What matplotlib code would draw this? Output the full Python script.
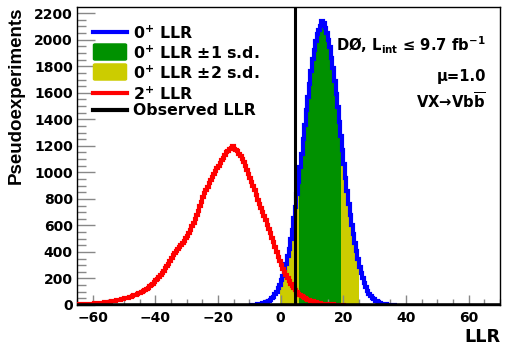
import numpy as np
import matplotlib
matplotlib.use("Agg")
import matplotlib.pyplot as plt
from matplotlib.patches import FancyBboxPatch
from matplotlib.lines import Line2D

plt.rcParams['font.family'] = ['DejaVu Sans']
plt.rcParams['font.weight'] = 'bold'
plt.rcParams['mathtext.fontset'] = 'custom'
plt.rcParams['mathtext.rm'] = 'DejaVu Sans:bold'
plt.rcParams['mathtext.bf'] = 'DejaVu Sans:bold'
plt.rcParams['mathtext.it'] = 'DejaVu Sans:bold'
plt.rcParams['mathtext.default'] = 'bf'

# ---------------- data ----------------
# 2+ LLR histogram: 0.5-unit bins starting at LLR = -65
red_start = -65
red_counts = [5, 5, 6, 6, 7, 7, 8, 9, 10, 10,
              11, 12, 12, 14, 15, 16, 17, 19, 20, 22,
              24, 26, 28, 31, 33, 35, 37, 41, 43, 47,
              50, 53, 56, 60, 64, 68, 72, 77, 81, 87,
              93, 99, 106, 114, 121, 131, 140, 150, 162, 174,
              186, 198, 212, 228, 243, 257, 276, 294, 310, 330,
              352, 375, 392, 408, 425, 440, 455, 470, 486, 504,
              520, 545, 566, 594, 620, 650, 678, 712, 745, 775,
              815, 845, 868, 892, 918, 942, 962, 988, 1008, 1032,
              1050, 1074, 1090, 1112, 1130, 1150, 1160, 1176, 1184, 1200,
              1180, 1165, 1158, 1140, 1122, 1098, 1076, 1048, 1018, 986,
              955, 925, 898, 866, 830, 795, 764, 732, 702, 670,
              638, 606, 572, 540, 508, 472, 438, 402, 364, 332,
              300, 272, 248, 224, 200, 180, 158, 142, 125, 111,
              98, 86, 76, 68, 60, 52, 46, 40, 35, 31,
              27, 23, 20, 18, 15, 13, 11, 9, 8, 6,
              5, 5, 4, 4, 3, 3, 2, 2, 1, 1,
              1, 1]

# 0+ LLR histogram: 0.5-unit bins starting at LLR = -10
blue_start = -10
blue_counts = [1, 1, 2, 2, 3, 5, 7, 9, 12, 15,
               20, 25, 33, 41, 53, 64, 82, 98, 126, 150,
               186, 218, 266, 310, 370, 422, 500, 564, 655, 737,
               835, 930, 1040, 1140, 1252, 1358, 1468, 1568, 1670, 1762,
               1852, 1924, 1990, 2040, 2070, 2100, 2142, 2125, 2092, 2048,
               2000, 1944, 1862, 1790, 1690, 1594, 1490, 1382, 1275, 1169,
               1062, 958, 860, 764, 680, 600, 535, 465, 405, 345,
               290, 240, 202, 168, 133, 107, 86, 70, 55, 45,
               33, 27, 20, 16, 11, 9, 7, 5, 3, 3,
               2, 2, 1, 1]
bin_width = 0.5

obs_llr = 4.5
band1 = (6.0, 19.3)    # 0+ LLR +-1 s.d.
band2 = (-0.3, 24.9)   # 0+ LLR +-2 s.d.

legend_labels = [r'$0^{+}$ LLR', r'$0^{+}$ LLR $\pm$1 s.d.',
                 r'$0^{+}$ LLR $\pm$2 s.d.', r'$2^{+}$ LLR', 'Observed LLR']

# ---------------- figure ----------------
W, H = 511, 346
fig = plt.figure(figsize=(W / 100, H / 100), dpi=100)

def fx(px):
    return px / W

def fy(py):
    return 1 - py / H

ax = fig.add_axes([fx(77), fy(305), fx(500) - fx(77), fy(7) - fy(305)])

red_edges = red_start + bin_width * np.arange(len(red_counts) + 1)
blue_edges = blue_start + bin_width * np.arange(len(blue_counts) + 1)
red_vals = np.array(red_counts, float)
blue_vals = np.array(blue_counts, float)

GREEN = '#009100'
YELLOW = '#cccc00'
LW = 3.0

def step_xy(edges, vals):
    xs = np.repeat(edges, 2)[1:-1]
    ys = np.repeat(vals, 2)
    return xs, ys

bx, by = step_xy(blue_edges, blue_vals)
for (lo, hi), col in [(band2, YELLOW), (band1, GREEN)]:
    ax.fill_between(np.clip(bx, lo, hi), by, 0, color=col, lw=0, zorder=1)

ax.stairs(blue_vals, blue_edges, color='#0000ff', lw=LW, zorder=3)
ax.stairs(red_vals, red_edges, color='#ff0000', lw=LW, zorder=4)
ax.axhline(0, color='black', lw=2.6, zorder=5)
ax.axvline(obs_llr, color='black', lw=2.2, zorder=6)

ax.set_xlim(-65, 70)
ax.set_ylim(0, 2247)
ax.set_xticks(np.arange(-60, 61, 20))
ax.set_xticks(np.arange(-65, 71, 5), minor=True)
ax.set_yticks(np.arange(0, 2201, 200))
ax.set_yticks(np.arange(0, 2247, 50), minor=True)
ax.tick_params(axis='both', which='both', direction='in', color='#888888',
               labelsize=10, top=False, right=False)
ax.tick_params(axis='y', which='major', length=13, width=1, pad=3)
ax.tick_params(axis='y', which='minor', length=6.5, width=1)
ax.tick_params(axis='x', which='major', length=7, width=1, pad=4)
ax.tick_params(axis='x', which='minor', length=4, width=1)
for lab in ax.get_xticklabels() + ax.get_yticklabels():
    lab.set_fontweight('bold')
for s in ax.spines.values():
    s.set_linewidth(1.0)

fig.text(fx(500), fy(337), 'LLR', ha='right', va='center', fontsize=12.7,
         fontweight='bold')
fig.text(fx(16), fy(7), 'Pseudoexperiments', ha='center', va='top',
         rotation=90, fontsize=13.5, fontweight='bold',
         family=['Liberation Sans', 'DejaVu Sans'])

# legend drawn by hand
rows = [32, 52, 72, 93, 110]
hx0, hx1 = 93, 127
line_cols = {0: '#0000ff', 3: '#ff0000', 4: 'black'}
for i, (yy, lab) in enumerate(zip(rows, legend_labels)):
    if i in line_cols:
        fig.add_artist(Line2D([fx(hx0), fx(hx1)], [fy(yy), fy(yy)],
                              color=line_cols[i], lw=LW))
    else:
        col = GREEN if i == 1 else YELLOW
        p = FancyBboxPatch((fx(hx0 + 2), fy(yy + 7)), fx(hx1 - hx0 - 4),
                           fy(yy - 7) - fy(yy + 7),
                           boxstyle='round,pad=0.003', transform=fig.transFigure,
                           facecolor=col, edgecolor=col)
        fig.add_artist(p)
    fig.text(fx(133), fy(yy + 1), lab, ha='left', va='center', fontsize=11.3,
             fontweight='bold')

fig.text(fx(486), fy(45), r'DØ, L$_{\mathrm{int}}$ ≤ 9.7 fb$^{-1}$', ha='right',
         va='center', fontsize=10.6, fontweight='bold')
fig.text(fx(486), fy(77), 'μ=1.0', ha='right', va='center', fontsize=10.6,
         fontweight='bold')
fig.text(fx(486), fy(102), r'VX→Vb$\overline{\mathrm{b}}$', ha='right',
         va='center', fontsize=10.6, fontweight='bold')

fig.savefig('out.png', dpi=100)
